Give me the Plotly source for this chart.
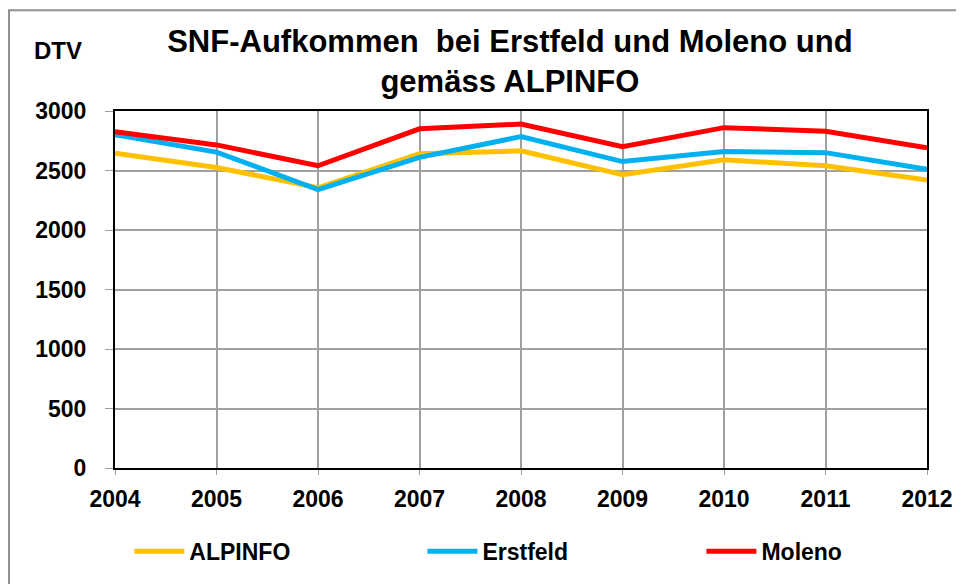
import plotly.graph_objects as go

years = [2004, 2005, 2006, 2007, 2008, 2009, 2010, 2011, 2012]
alpinfo = [2645, 2525, 2355, 2640, 2665, 2465, 2590, 2540, 2420]
erstfeld = [2800, 2655, 2340, 2610, 2785, 2575, 2660, 2650, 2510]
moleno = [2825, 2715, 2540, 2850, 2890, 2700, 2860, 2830, 2690]
ytickvals = [0, 500, 1000, 1500, 2000, 2500, 3000]

series = [("ALPINFO", alpinfo, "#FFC000", "legend"),
          ("Erstfeld", erstfeld, "#00B0F0", "legend2"),
          ("Moleno", moleno, "#FF0000", "legend3")]

FONT = "Liberation Sans, Arial, sans-serif"

fig = go.Figure()
for name, vals, col, leg in series:
    fig.add_trace(go.Scatter(x=years, y=vals, name=f"<b>{name}</b>", mode="lines",
                             line=dict(color=col, width=5), legend=leg))


def legend_at(x):
    return dict(orientation="h", x=x, xanchor="left", y=-0.17, yanchor="top",
                font=dict(size=23, family=FONT), itemwidth=50,
                bgcolor="rgba(0,0,0,0)")


fig.update_layout(
    width=956, height=576,
    margin=dict(l=107, r=37, t=103, b=115),
    paper_bgcolor="white", plot_bgcolor="white",
    font=dict(family=FONT, color="black"),
    title=dict(text="<b>SNF-Aufkommen  bei Erstfeld und Moleno und<br>gemäss ALPINFO</b>",
               x=0.525, xanchor="center", yref="container", y=0.924, yanchor="middle",
               font=dict(size=31, family=FONT)),
    showlegend=True,
    legend=legend_at(0.0177),
    legend2=legend_at(0.3786),
    legend3=legend_at(0.7222),
    xaxis=dict(range=[2004, 2012], tickmode="array", tickvals=years,
               ticktext=[f"<b>{y}</b>" for y in years],
               tickfont=dict(size=23, family=FONT), ticklabelstandoff=4,
               showgrid=True, gridcolor="#A0A0A0", gridwidth=1.5,
               showline=True, linecolor="black", linewidth=2, mirror=True,
               ticks="outside", ticklen=5, tickcolor="#A0A0A0", zeroline=False),
    yaxis=dict(range=[0, 3000], tickmode="array", tickvals=ytickvals,
               ticktext=[f"<b>{v}</b>" for v in ytickvals],
               tickfont=dict(size=23, family=FONT), ticklabelstandoff=14,
               showgrid=True, gridcolor="#A0A0A0", gridwidth=1.5,
               showline=True, linecolor="black", linewidth=2, mirror=True,
               ticks="outside", ticklen=8, tickcolor="#A0A0A0", zeroline=False),
)

fig.add_annotation(text="<b>DTV</b>", xref="paper", yref="paper",
                   x=-0.070, y=1.170, xanchor="center", yanchor="middle",
                   showarrow=False, font=dict(size=24, family=FONT))

fig.add_shape(type="rect", xref="paper", yref="paper",
              x0=-0.1305, x1=1.2, y0=-0.6, y1=1.282,
              line=dict(color="#909090", width=2), layer="below")

fig.write_html("out.html")
